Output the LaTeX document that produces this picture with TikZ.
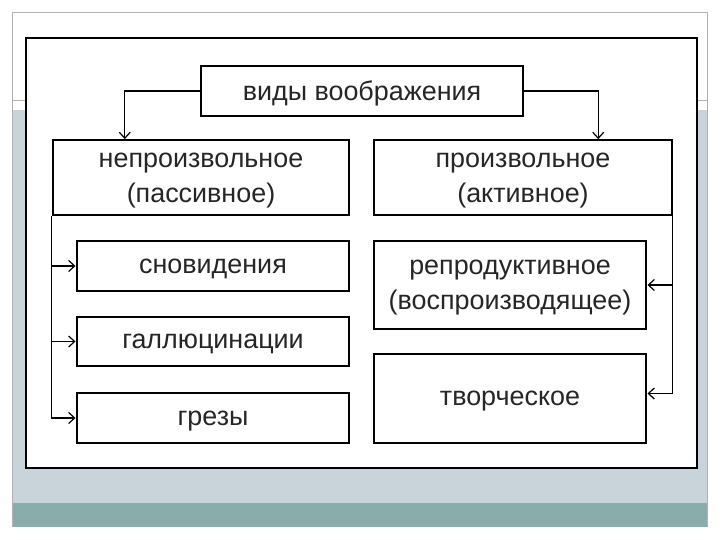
\documentclass[tikz,border=0pt]{standalone}
\usepackage{fontspec}
\setmainfont{Liberation Sans}
\usetikzlibrary{calc,arrows.meta}

\definecolor{slideband}{HTML}{C9D4DA}
\definecolor{slidebar}{HTML}{8AADAC}

\begin{document}
\begin{tikzpicture}[x=1bp, y=-1bp,
        every node/.style={font=\fontsize{27}{35}\selectfont, text=black!85},
        box/.style={rectangle, draw=black, line width=2bp, fill=white, align=center, inner sep=0pt, text depth=0pt},
        arrow/.style={-{Straight Barb[length=6bp,width=11bp]}, line width=1.2bp, draw=black},
    ]
        \useasboundingbox (0,0) rectangle (720,540);

        % slide background
        \fill[slideband] (12,110) rectangle (707,503);
        \fill[slidebar] (12,503) rectangle (707,527);
        \draw[gray!60, line width=0.8bp] (12,527) -- (12,12) -- (707,12) -- (707,527);
        \draw[gray!60, line width=0.8bp] (12,100) -- (707,100);
        \draw[black, line width=2.4bp, fill=white] (26,38) rectangle (697,468);

        \node[box, minimum width=324, minimum height=50] (kinds) at (362, 91) {виды воображения};
        \node[box, minimum width=298, minimum height=75] (invol) at (201, 177.5) {непроизвольное\\(пассивное)};
        \node[box, minimum width=300, minimum height=75] (vol) at (523, 177.5) {произвольное\\(активное)};

        \node[box, minimum width=274, minimum height=50] (dreams) at (213, 266) {сновидения};
        \node[box, minimum width=274, minimum height=49] (halluc) at (213, 341.5) {галлюцинации};
        \node[box, minimum width=274, minimum height=50] (reverie) at (213, 418) {грезы};
        \node[box, minimum width=274, minimum height=88] (repro) at (510, 285) {репродуктивное\\(воспроизводящее)};
        \node[box, minimum width=274, minimum height=89] (creat) at (510, 398.5) {творческое};

        \draw[arrow] (kinds.west) -| ($(invol.north west)!0.245!(invol.north east)$);
        \draw[arrow] (kinds.east) -| ($(vol.north west)!0.75!(vol.north east)$);
        \foreach \n in {dreams, halluc, reverie}
            \draw[arrow] (invol.south west) |- (\n.west);
        \draw[arrow] ([xshift=-1]vol.south east) |- (repro.east);
        \draw[arrow] ([xshift=-1]vol.south east) |- ([yshift=5]creat.east);

    \end{tikzpicture}
\end{document}
